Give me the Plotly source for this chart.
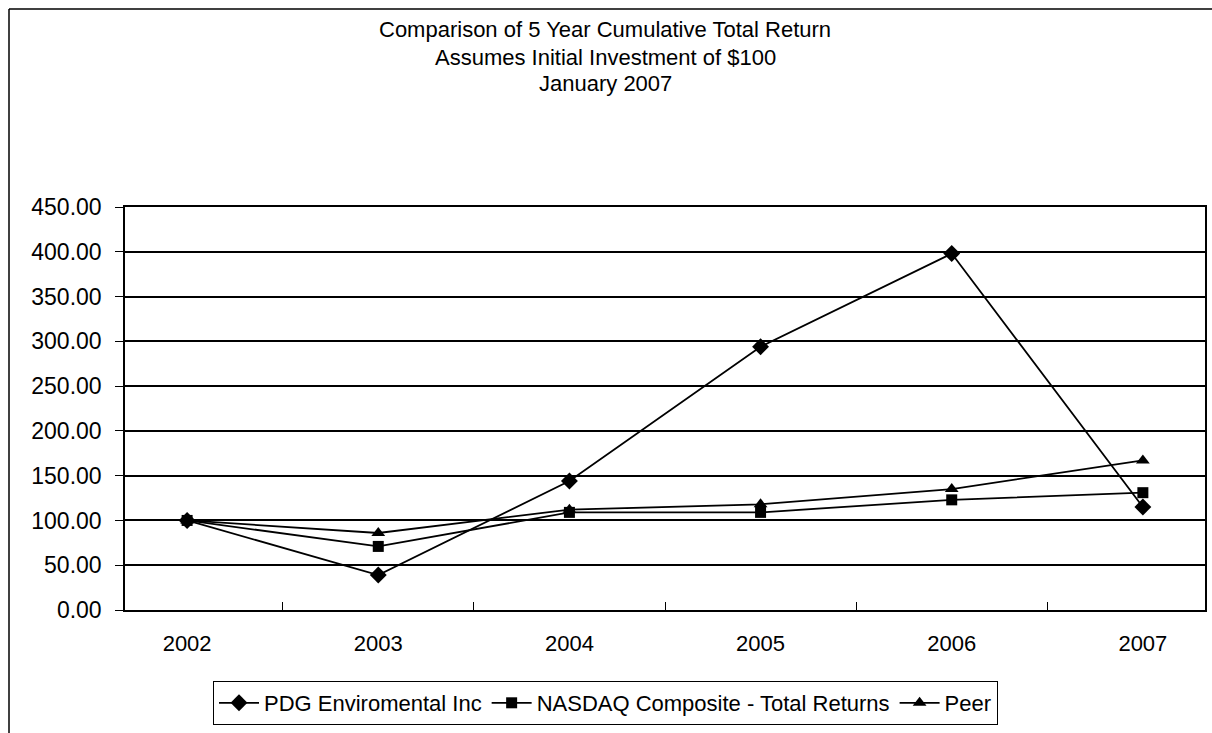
import plotly.graph_objects as go

years = ["2002", "2003", "2004", "2005", "2006", "2007"]
pdg = [100.00, 39.00, 144.00, 294.00, 398.00, 115.00]
nasdaq = [100.00, 71.00, 109.00, 109.00, 123.00, 131.00]
peer = [100.00, 86.00, 112.00, 118.00, 135.00, 167.00]
y_ticks = [0, 50, 100, 150, 200, 250, 300, 350, 400, 450]
title_lines = ["Comparison of 5 Year Cumulative Total Return",
               "Assumes Initial Investment of $100",
               "January 2007"]

FONT = "Arial, 'Liberation Sans', sans-serif"
FS = 22

fig = go.Figure()
series = [
    ("PDG Enviromental Inc", pdg, "diamond", 13),
    ("NASDAQ Composite - Total Returns", nasdaq, "square", 11),
    ("Peer", peer, "triangle-up", 12),
]
for name, vals, sym, sz in series:
    fig.add_trace(go.Scatter(
        x=years, y=vals, name=name, mode="lines+markers",
        line=dict(color="black", width=1.8),
        marker=dict(symbol=sym, size=sz, color="black"),
    ))

L, R, T, B = 125, 7, 207, 123
W, H = 1212, 733
pw, ph = W - L - R, H - T - B

def px_x(p):
    return (p - L) / pw

def px_y(p):
    return (H - B - p) / ph

title_y = [30, 58, 84]
annotations = [
    dict(text=t, xref="paper", yref="paper", x=px_x(605), y=px_y(yy),
         xanchor="center", yanchor="middle", showarrow=False, font=dict(size=FS))
    for t, yy in zip(title_lines, title_y)
]

fig.update_layout(
    width=W, height=H,
    margin=dict(l=L, r=R, t=T, b=B, autoexpand=False),
    paper_bgcolor="white", plot_bgcolor="white",
    font=dict(family=FONT, color="black", size=FS),
    showlegend=True,
    legend=dict(
        orientation="h", x=px_x(213), xanchor="left", y=px_y(681), yanchor="top",
        bordercolor="black", borderwidth=1, font=dict(size=FS),
        itemwidth=40, tracegroupgap=0,
    ),
    annotations=annotations,
    shapes=[
        dict(type="line", xref="paper", yref="paper", x0=px_x(9), x1=px_x(1212), y0=px_y(9), y1=px_y(9),
             line=dict(color="black", width=1.5)),
        dict(type="line", xref="paper", yref="paper", x0=px_x(9), x1=px_x(9), y0=px_y(9), y1=px_y(733),
             line=dict(color="black", width=1.5)),
    ],
)
fig.update_xaxes(
    type="category", showline=True, linecolor="black", linewidth=1.5, mirror=True,
    ticks="inside", tickson="boundaries", ticklen=8, tickcolor="black", tickwidth=1,
    showgrid=False, ticklabelstandoff=13, tickfont=dict(size=FS), automargin=False,
)
fig.update_yaxes(
    range=[0, 450], tickvals=y_ticks, tickformat=".2f",
    showline=True, linecolor="black", linewidth=1.5, mirror=True,
    ticks="outside", ticklen=8, tickcolor="black", tickwidth=1,
    showgrid=True, gridcolor="black", gridwidth=1.5, zeroline=False,
    tickfont=dict(size=23), ticklabelstandoff=9, automargin=False,
)

fig.write_html("out.html")
